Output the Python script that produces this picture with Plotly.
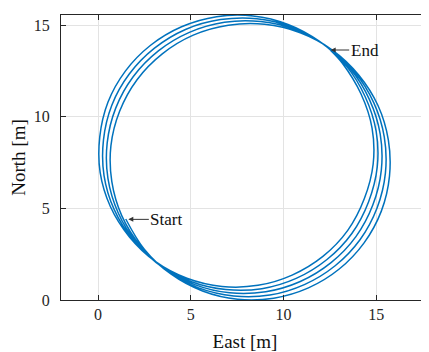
import plotly.graph_objects as go

# Trajectory (East, North in metres)
east = [1.49,2.50,3.92,5.63,7.52,9.47,11.34,13.00,14.34,15.27,15.71,15.65,15.09,14.05,12.63,10.90,8.98,7.02,5.13,3.46,2.10,1.16,0.69,0.74,
        1.28,2.30,3.71,5.42,7.31,9.26,11.12,12.78,14.12,15.04,15.49,15.43,14.86,13.83,12.40,10.68,8.77,6.81,4.92,3.25,1.89,0.95,0.49,0.53,
        1.08,2.09,3.50,5.21,7.10,9.04,10.90,12.56,13.90,14.81,15.27,15.21,14.63,13.61,12.17,10.46,8.56,6.60,4.71,3.04,1.68,0.74,0.29,0.32,
        0.87,1.89,3.29,5.00,6.89,8.83,10.68,12.34,13.68,14.58,15.05,14.99,14.40,13.39,11.94,10.24,8.35,6.39,4.50,2.83,1.47,0.53,0.09,0.11,
        0.66,1.69,3.08,4.79,6.68,8.62,10.46,12.12,13.46,14.35,14.83,14.77,14.17,13.17,12.54]
north = [4.42,2.76,1.42,0.49,0.04,0.10,0.66,1.69,3.12,4.85,6.76,8.72,10.61,12.28,13.64,14.58,15.04,14.99,14.45,13.43,12.02,10.30,8.41,6.46,
         4.59,2.93,1.59,0.66,0.22,0.27,0.84,1.87,3.29,5.02,6.92,8.89,10.77,12.44,13.79,14.73,15.19,15.15,14.60,13.59,12.18,10.47,8.57,6.63,
         4.76,3.10,1.76,0.84,0.39,0.45,1.01,2.04,3.46,5.18,7.09,9.05,10.93,12.60,13.95,14.89,15.35,15.30,14.76,13.74,12.33,10.63,8.74,6.79,
         4.93,3.27,1.94,1.01,0.57,0.62,1.18,2.21,3.63,5.35,7.26,9.21,11.09,12.76,14.11,15.04,15.50,15.46,14.91,13.90,12.49,10.79,8.90,6.96,
         5.10,3.44,2.11,1.19,0.74,0.80,1.36,2.38,3.80,5.52,7.42,9.38,11.25,12.92,13.62]

x_ticks = [0, 5, 10, 15]
y_ticks = [0, 5, 10, 15]
marks = ["Start", "End"]
mark_east = [1.63, 12.54]
mark_north = [4.40, 13.64]

FONT = "Liberation Serif"
AX = "#262626"

fig = go.Figure()
fig.add_trace(go.Scatter(x=east, y=north, mode="lines",
                         line=dict(color="#0072BD", width=1.5, shape="spline"),
                         showlegend=False, hoverinfo="skip"))

offsets = [38, 34]
for name, ex, ny, off in zip(marks, mark_east, mark_north, offsets):
    fig.add_annotation(x=ex, y=ny, text=name, showarrow=True, ax=off, ay=0,
                       arrowhead=2, arrowsize=1, arrowwidth=1, arrowcolor="#333333",
                       font=dict(family=FONT, size=17, color="#111111"))

axis_common = dict(showline=True, linecolor=AX, linewidth=1, mirror="allticks",
                   ticks="inside", ticklen=5, tickcolor=AX, tickwidth=1,
                   showgrid=True, gridcolor="#e3e3e3", gridwidth=1, zeroline=False,
                   automargin=False,
                   tickfont=dict(family=FONT, size=16, color=AX))

fig.update_xaxes(range=[-2, 17.84], tickvals=x_ticks, **axis_common,
                 title=dict(text="East [m]", font=dict(family=FONT, size=19, color="#111111"), standoff=14))
fig.update_yaxes(range=[0, 15.55], tickvals=y_ticks, ticklabelstandoff=7, **axis_common,
                 title=dict(text="North [m]", font=dict(family=FONT, size=19, color="#111111"), standoff=8))

fig.update_layout(width=421, height=344, margin=dict(l=53, r=0, t=7, b=52, autoexpand=False),
                  plot_bgcolor="white", paper_bgcolor="white",
                  font=dict(family=FONT))
fig.write_html("out.html")
